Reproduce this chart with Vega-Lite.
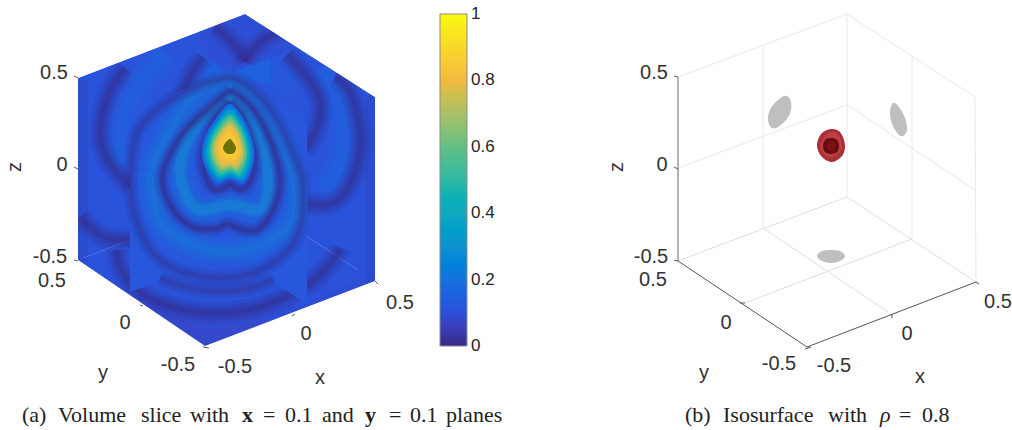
{"$schema":"https://vega.github.io/schema/vega-lite/v6.json","width":1012,"height":430,"padding":0,"autosize":{"type":"none"},"background":"white","config":{"view":{"stroke":null}},
"datasets":{
"back":[
{"p":"wl","x":78,"y":78,"v":0.11},{"p":"wl","x":245,"y":14,"v":0.11},{"p":"wl","x":245,"y":196,"v":0.11},{"p":"wl","x":78,"y":260,"v":0.11},
{"p":"wr","x":245,"y":14,"v":0.11},{"p":"wr","x":375,"y":97,"v":0.11},{"p":"wr","x":375,"y":281,"v":0.11},{"p":"wr","x":245,"y":196,"v":0.11},
{"p":"fl","x":78,"y":260,"v":0.11},{"p":"fl","x":245,"y":196,"v":0.11},{"p":"fl","x":375,"y":281,"v":0.11},{"p":"fl","x":205,"y":346,"v":0.11},
{"p":"fc1","x":78,"y":255,"v":0.103},{"p":"fc1","x":125,"y":283,"v":0.103},{"p":"fc1","x":205,"y":312,"v":0.103},{"p":"fc1","x":300,"y":295,"v":0.103},{"p":"fc1","x":375,"y":262,"v":0.103},{"p":"fc1","x":375,"y":281,"v":0.103},{"p":"fc1","x":205,"y":346,"v":0.103},{"p":"fc1","x":78,"y":260,"v":0.103},
{"p":"fc2","x":100,"y":275,"v":0.094},{"p":"fc2","x":140,"y":298,"v":0.094},{"p":"fc2","x":205,"y":320,"v":0.094},{"p":"fc2","x":300,"y":305,"v":0.094},{"p":"fc2","x":375,"y":274,"v":0.094},{"p":"fc2","x":375,"y":281,"v":0.094},{"p":"fc2","x":205,"y":346,"v":0.094},
{"p":"fc3","x":140,"y":303,"v":0.082},{"p":"fc3","x":205,"y":330,"v":0.082},{"p":"fc3","x":300,"y":315,"v":0.082},{"p":"fc3","x":205,"y":346,"v":0.082},
{"p":"tq","x":245,"y":14,"v":0.097},{"p":"tq","x":293,"y":45,"v":0.097},{"p":"tq","x":293,"y":50,"v":0.097},{"p":"tq","x":230,"y":73,"v":0.097},{"p":"tq","x":205,"y":57,"v":0.097},{"p":"tq","x":198,"y":32,"v":0.097},
{"p":"tl0","x":190,"y":47,"v":0.118},{"p":"tl0","x":230,"y":73,"v":0.118},{"p":"tl0","x":190,"y":88,"v":0.118},
{"p":"tl1","x":205,"y":57,"v":0.145},{"p":"tl1","x":230,"y":73,"v":0.145},{"p":"tl1","x":205,"y":82,"v":0.145},
{"p":"tr0","x":293,"y":50,"v":0.118},{"p":"tr0","x":293,"y":99,"v":0.118},{"p":"tr0","x":230,"y":73,"v":0.118},
{"p":"tr1","x":270,"y":58,"v":0.15},{"p":"tr1","x":270,"y":85,"v":0.15},{"p":"tr1","x":230,"y":73,"v":0.15}
],
"panel":[
{"p":"fp","x":130,"y":110,"v":0.122},{"p":"fp","x":230,"y":73,"v":0.122},{"p":"fp","x":307,"y":122,"v":0.122},{"p":"fp","x":307,"y":304,"v":0.122},{"p":"fp","x":230,"y":255,"v":0.122},{"p":"fp","x":130,"y":292,"v":0.122}
],
"wallGlow":[
{"p":"g3","x":165,"y":52},{"p":"g3","x":140,"y":85},{"p":"g3","x":122,"y":125},{"p":"g3","x":122,"y":165},
{"p":"g4","x":322,"y":68},{"p":"g4","x":341,"y":110},{"p":"g4","x":341,"y":160},{"p":"g4","x":322,"y":190}
],
"wallShade":[
{"p":"sl","x":81,"y":80},{"p":"sl","x":81,"y":262},
{"p":"sr","x":372,"y":95},{"p":"sr","x":372,"y":282}
],
"ringsBack":[
{"p":"r1","x":125,"y":68},{"p":"r1","x":108,"y":95},{"p":"r1","x":100,"y":133},{"p":"r1","x":108,"y":160},{"p":"r1","x":130,"y":187},
{"p":"r2","x":203,"y":57},{"p":"r2","x":192,"y":73},{"p":"r2","x":183,"y":93},{"p":"r2","x":172,"y":112},
{"p":"r3","x":215,"y":27},{"p":"r3","x":228,"y":38},{"p":"r3","x":240,"y":52},{"p":"r3","x":245,"y":62},
{"p":"r4","x":280,"y":30},{"p":"r4","x":262,"y":41},{"p":"r4","x":250,"y":53},{"p":"r4","x":245,"y":62},
{"p":"r5","x":287,"y":55},{"p":"r5","x":308,"y":78},{"p":"r5","x":320,"y":100},{"p":"r5","x":318,"y":125},{"p":"r5","x":305,"y":150},
{"p":"r6","x":335,"y":77},{"p":"r6","x":350,"y":92},{"p":"r6","x":360,"y":133},{"p":"r6","x":357,"y":165},{"p":"r6","x":345,"y":192},{"p":"r6","x":327,"y":205},{"p":"r6","x":305,"y":203},
{"p":"r7","x":80,"y":217},{"p":"r7","x":103,"y":237},{"p":"r7","x":127,"y":240},{"p":"r7","x":135,"y":240},
{"p":"r8","x":117,"y":250},{"p":"r8","x":120,"y":267},{"p":"r8","x":134,"y":287},{"p":"r8","x":160,"y":303},{"p":"r8","x":207,"y":313},{"p":"r8","x":260,"y":307},{"p":"r8","x":310,"y":283},{"p":"r8","x":333,"y":260},{"p":"r8","x":340,"y":248}
],
"glow":[
{"p":"g1","x":230,"y":96},{"p":"g1","x":195,"y":128},{"p":"g1","x":180,"y":170},{"p":"g1","x":195,"y":208},{"p":"g1","x":230,"y":205},{"p":"g1","x":262,"y":208},{"p":"g1","x":268,"y":170},{"p":"g1","x":255,"y":130},{"p":"g1","x":230,"y":96},
{"p":"g2","x":150,"y":170},{"p":"g2","x":165,"y":228},{"p":"g2","x":230,"y":252},{"p":"g2","x":290,"y":225},{"p":"g2","x":292,"y":170},{"p":"g2","x":265,"y":118},{"p":"g2","x":230,"y":84},{"p":"g2","x":190,"y":100},{"p":"g2","x":150,"y":170}
],
"ringsFront":[
{"p":"B","x":230,"y":90},{"p":"B","x":210,"y":107},{"p":"B","x":183,"y":133},{"p":"B","x":165,"y":165},{"p":"B","x":163,"y":187},{"p":"B","x":175,"y":212},{"p":"B","x":193,"y":227},{"p":"B","x":215,"y":229},{"p":"B","x":227,"y":224},{"p":"B","x":240,"y":229},{"p":"B","x":257,"y":230},{"p":"B","x":272,"y":212},{"p":"B","x":280,"y":185},{"p":"B","x":277,"y":160},{"p":"B","x":265,"y":128},{"p":"B","x":250,"y":105},{"p":"B","x":230,"y":90},
{"p":"A","x":230,"y":102},{"p":"A","x":217,"y":115},{"p":"A","x":207,"y":135},{"p":"A","x":202,"y":155},{"p":"A","x":205,"y":175},{"p":"A","x":213,"y":189},{"p":"A","x":222,"y":189},{"p":"A","x":230,"y":184},{"p":"A","x":237,"y":189},{"p":"A","x":245,"y":188},{"p":"A","x":253,"y":175},{"p":"A","x":255,"y":155},{"p":"A","x":250,"y":135},{"p":"A","x":242,"y":115},{"p":"A","x":230,"y":102}
],
"ringsFaint":[
{"p":"C","x":230,"y":77},{"p":"C","x":200,"y":85},{"p":"C","x":160,"y":107},{"p":"C","x":137,"y":133},{"p":"C","x":131,"y":170},{"p":"C","x":132,"y":203},{"p":"C","x":142,"y":235},{"p":"C","x":160,"y":260},{"p":"C","x":190,"y":274},{"p":"C","x":223,"y":278},{"p":"C","x":250,"y":274},{"p":"C","x":273,"y":263},{"p":"C","x":290,"y":248},{"p":"C","x":300,"y":227},{"p":"C","x":303,"y":190},{"p":"C","x":298,"y":165},{"p":"C","x":273,"y":113},{"p":"C","x":250,"y":88},{"p":"C","x":230,"y":77},
{"p":"C2","x":160,"y":278},{"p":"C2","x":190,"y":288},{"p":"C2","x":220,"y":291},{"p":"C2","x":250,"y":288},{"p":"C2","x":273,"y":279}
],
"peak":[
{"p":"l00","v":0.18,"x":230,"y":104},{"p":"l00","v":0.18,"x":243,"y":118},{"p":"l00","v":0.18,"x":252,"y":139},{"p":"l00","v":0.18,"x":254,"y":161},{"p":"l00","v":0.18,"x":244,"y":183},{"p":"l00","v":0.18,"x":230,"y":179},{"p":"l00","v":0.18,"x":216,"y":183},{"p":"l00","v":0.18,"x":203,"y":161},{"p":"l00","v":0.18,"x":204,"y":139},{"p":"l00","v":0.18,"x":216,"y":118},
{"p":"l01","v":0.27,"x":230,"y":107},{"p":"l01","v":0.27,"x":242,"y":121},{"p":"l01","v":0.27,"x":250,"y":140},{"p":"l01","v":0.27,"x":252,"y":160},{"p":"l01","v":0.27,"x":243,"y":180},{"p":"l01","v":0.27,"x":230,"y":177},{"p":"l01","v":0.27,"x":217,"y":180},{"p":"l01","v":0.27,"x":205,"y":160},{"p":"l01","v":0.27,"x":206,"y":140},{"p":"l01","v":0.27,"x":217,"y":121},
{"p":"l02","v":0.35,"x":230,"y":110},{"p":"l02","v":0.35,"x":241,"y":122},{"p":"l02","v":0.35,"x":249,"y":140},{"p":"l02","v":0.35,"x":250,"y":159},{"p":"l02","v":0.35,"x":242,"y":178},{"p":"l02","v":0.35,"x":230,"y":175},{"p":"l02","v":0.35,"x":218,"y":178},{"p":"l02","v":0.35,"x":207,"y":159},{"p":"l02","v":0.35,"x":208,"y":140},{"p":"l02","v":0.35,"x":218,"y":122},
{"p":"l03","v":0.44,"x":230,"y":113},{"p":"l03","v":0.44,"x":240,"y":124},{"p":"l03","v":0.44,"x":247,"y":141},{"p":"l03","v":0.44,"x":249,"y":158},{"p":"l03","v":0.44,"x":241,"y":176},{"p":"l03","v":0.44,"x":230,"y":173},{"p":"l03","v":0.44,"x":218,"y":176},{"p":"l03","v":0.44,"x":208,"y":158},{"p":"l03","v":0.44,"x":209,"y":141},{"p":"l03","v":0.44,"x":218,"y":124},
{"p":"l04","v":0.52,"x":230,"y":115},{"p":"l04","v":0.52,"x":240,"y":126},{"p":"l04","v":0.52,"x":246,"y":141},{"p":"l04","v":0.52,"x":247,"y":157},{"p":"l04","v":0.52,"x":240,"y":174},{"p":"l04","v":0.52,"x":230,"y":171},{"p":"l04","v":0.52,"x":219,"y":174},{"p":"l04","v":0.52,"x":210,"y":157},{"p":"l04","v":0.52,"x":211,"y":141},{"p":"l04","v":0.52,"x":219,"y":126},
{"p":"l05","v":0.6,"x":230,"y":118},{"p":"l05","v":0.6,"x":239,"y":128},{"p":"l05","v":0.6,"x":244,"y":142},{"p":"l05","v":0.6,"x":246,"y":157},{"p":"l05","v":0.6,"x":239,"y":171},{"p":"l05","v":0.6,"x":230,"y":169},{"p":"l05","v":0.6,"x":220,"y":171},{"p":"l05","v":0.6,"x":212,"y":157},{"p":"l05","v":0.6,"x":212,"y":142},{"p":"l05","v":0.6,"x":220,"y":128},
{"p":"l06","v":0.68,"x":230,"y":121},{"p":"l06","v":0.68,"x":238,"y":130},{"p":"l06","v":0.68,"x":243,"y":142},{"p":"l06","v":0.68,"x":244,"y":156},{"p":"l06","v":0.68,"x":238,"y":169},{"p":"l06","v":0.68,"x":230,"y":167},{"p":"l06","v":0.68,"x":221,"y":169},{"p":"l06","v":0.68,"x":213,"y":156},{"p":"l06","v":0.68,"x":214,"y":142},{"p":"l06","v":0.68,"x":221,"y":130},
{"p":"l07","v":0.75,"x":230,"y":124},{"p":"l07","v":0.75,"x":237,"y":131},{"p":"l07","v":0.75,"x":241,"y":143},{"p":"l07","v":0.75,"x":243,"y":155},{"p":"l07","v":0.75,"x":237,"y":167},{"p":"l07","v":0.75,"x":230,"y":165},{"p":"l07","v":0.75,"x":222,"y":167},{"p":"l07","v":0.75,"x":215,"y":155},{"p":"l07","v":0.75,"x":215,"y":143},{"p":"l07","v":0.75,"x":222,"y":131},
{"p":"l08","v":0.8,"x":230,"y":126},{"p":"l08","v":0.8,"x":236,"y":133},{"p":"l08","v":0.8,"x":240,"y":143},{"p":"l08","v":0.8,"x":241,"y":154},{"p":"l08","v":0.8,"x":236,"y":164},{"p":"l08","v":0.8,"x":230,"y":163},{"p":"l08","v":0.8,"x":223,"y":164},{"p":"l08","v":0.8,"x":217,"y":154},{"p":"l08","v":0.8,"x":217,"y":143},{"p":"l08","v":0.8,"x":223,"y":133},
{"p":"l09","v":0.83,"x":229,"y":130},{"p":"l09","v":0.83,"x":235,"y":136},{"p":"l09","v":0.83,"x":238,"y":144},{"p":"l09","v":0.83,"x":239,"y":153},{"p":"l09","v":0.83,"x":235,"y":161},{"p":"l09","v":0.83,"x":229,"y":160},{"p":"l09","v":0.83,"x":224,"y":161},{"p":"l09","v":0.83,"x":219,"y":153},{"p":"l09","v":0.83,"x":219,"y":144},{"p":"l09","v":0.83,"x":224,"y":136},
{"p":"l10","v":0.85,"x":229,"y":134},{"p":"l10","v":0.85,"x":234,"y":138},{"p":"l10","v":0.85,"x":236,"y":145},{"p":"l10","v":0.85,"x":237,"y":151},{"p":"l10","v":0.85,"x":234,"y":158},{"p":"l10","v":0.85,"x":229,"y":157},{"p":"l10","v":0.85,"x":225,"y":158},{"p":"l10","v":0.85,"x":221,"y":151},{"p":"l10","v":0.85,"x":221,"y":145},{"p":"l10","v":0.85,"x":225,"y":138}
],
"egg":[{"x":230,"y":139},{"x":233,"y":142},{"x":236,"y":148},{"x":234,"y":153},{"x":230,"y":154},{"x":226,"y":153},{"x":223,"y":148},{"x":226,"y":142}],
"mask":[
{"p":"m1","x":60,"y":78},{"p":"m1","x":78,"y":78},{"p":"m1","x":245,"y":14},{"p":"m1","x":375,"y":97},{"p":"m1","x":395,"y":97},{"p":"m1","x":395,"y":0},{"p":"m1","x":60,"y":0},
{"p":"m2","x":60,"y":78},{"p":"m2","x":78,"y":78},{"p":"m2","x":78,"y":260},{"p":"m2","x":60,"y":260},
{"p":"m3","x":375,"y":97},{"p":"m3","x":395,"y":97},{"p":"m3","x":395,"y":281},{"p":"m3","x":375,"y":281},
{"p":"m4","x":60,"y":260},{"p":"m4","x":78,"y":260},{"p":"m4","x":205,"y":346},{"p":"m4","x":375,"y":281},{"p":"m4","x":395,"y":281},{"p":"m4","x":395,"y":360},{"p":"m4","x":60,"y":360}
],
"barTicks":[{"x":463,"x2":467,"y":279.6},{"x":463,"x2":467,"y":213.2},{"x":463,"x2":467,"y":146.8},{"x":463,"x2":467,"y":80.4}],
"grid":[
{"x":678,"y":77,"x2":847,"y2":14},{"x":847,"y":14,"x2":975,"y2":97},{"x":847,"y":14,"x2":847,"y2":197},{"x":975,"y":97,"x2":976,"y2":282},
{"x":763,"y":46,"x2":763,"y2":228},{"x":912,"y":56,"x2":912,"y2":239},{"x":678,"y":168,"x2":847,"y2":105},{"x":847,"y":105,"x2":975,"y2":190}
],
"floorGrid":[
{"x":678,"y":261,"x2":847,"y2":197},{"x":847,"y":197,"x2":976,"y2":282},{"x":763,"y":228,"x2":888,"y2":312},{"x":912,"y":239,"x2":745,"y2":303}
],
"axes":[
{"x":678,"y":261,"x2":807,"y2":347},{"x":807,"y":347,"x2":976,"y2":282},
{"x":674,"y":260,"x2":678,"y2":261},{"x":674,"y":76,"x2":678,"y2":77},{"x":674,"y":167,"x2":678,"y2":169},{"x":740,"y":303,"x2":745,"y2":303},{"x":892,"y":318,"x2":892,"y2":314},{"x":805,"y":349,"x2":811,"y2":347},{"x":976,"y":282,"x2":979,"y2":284},
{"x":74,"y":76,"x2":78,"y2":78},{"x":74,"y":167,"x2":78,"y2":169},{"x":74,"y":260,"x2":78,"y2":261},{"x":203,"y":347,"x2":209,"y2":348},{"x":375,"y":281,"x2":378,"y2":284},{"x":140,"y":305,"x2":143,"y2":306},{"x":292,"y":316,"x2":295,"y2":314}
],
"zAxis":[{"x":678,"y":77,"x2":678,"y2":261}],
"blobs":[
{"p":"e1","x":784,"y":96},{"p":"e1","x":790,"y":99},{"p":"e1","x":791,"y":110},{"p":"e1","x":786,"y":120},{"p":"e1","x":776,"y":128},{"p":"e1","x":770,"y":126},{"p":"e1","x":768,"y":116},{"p":"e1","x":773,"y":105},
{"p":"e2","x":893,"y":103},{"p":"e2","x":899,"y":107},{"p":"e2","x":905,"y":118},{"p":"e2","x":907,"y":130},{"p":"e2","x":903,"y":136},{"p":"e2","x":898,"y":134},{"p":"e2","x":892,"y":124},{"p":"e2","x":890,"y":112},
{"p":"e3","x":831,"y":250},{"p":"e3","x":840,"y":251},{"p":"e3","x":845,"y":256},{"p":"e3","x":840,"y":261},{"p":"e3","x":831,"y":263},{"p":"e3","x":822,"y":261},{"p":"e3","x":817,"y":256},{"p":"e3","x":822,"y":251}
],
"red1":[{"x":831,"y":129},{"x":840,"y":132},{"x":845,"y":145},{"x":842,"y":156},{"x":832,"y":162},{"x":822,"y":157},{"x":817,"y":146},{"x":821,"y":134}],
"red2":[{"x":832,"y":132},{"x":839,"y":136},{"x":842,"y":146},{"x":839,"y":153},{"x":831,"y":157},{"x":824,"y":154},{"x":820,"y":146},{"x":824,"y":137}],
"red3":[{"x":831,"y":138},{"x":837,"y":140},{"x":839,"y":146},{"x":837,"y":152},{"x":831,"y":154},{"x":825,"y":152},{"x":823,"y":146},{"x":825,"y":140}],
"red4":[{"x":831,"y":141},{"x":835,"y":143},{"x":836,"y":146},{"x":834,"y":150},{"x":831,"y":151},{"x":828,"y":149},{"x":827,"y":146},{"x":828,"y":143}],
"labels":[
{"t":"0.5","x":54,"y":73},{"t":"0","x":62,"y":165},{"t":"-0.5","x":50,"y":257},{"t":"0.5","x":52,"y":281},{"t":"0","x":125,"y":323},{"t":"-0.5","x":178,"y":365},{"t":"y","x":103,"y":373},{"t":"-0.5","x":235,"y":367},{"t":"0","x":306,"y":334},{"t":"0.5","x":400,"y":303},{"t":"x","x":320,"y":378},
{"t":"0.5","x":654,"y":73},{"t":"0","x":662,"y":165},{"t":"-0.5","x":651,"y":257},{"t":"0.5","x":653,"y":280},{"t":"0","x":726,"y":323},{"t":"-0.5","x":779,"y":364},{"t":"y","x":704,"y":373},{"t":"-0.5","x":834,"y":366},{"t":"0","x":907,"y":334},{"t":"0.5","x":998,"y":302},{"t":"x","x":920,"y":377}
],
"zLabels":[{"t":"z","x":15,"y":167},{"t":"z","x":617,"y":167}],
"caption":[
{"t":"(a)","x":22,"y":422},{"t":"Volume","x":58,"y":422},{"t":"slice","x":141,"y":422},{"t":"with","x":190,"y":422},{"t":"=","x":263,"y":422},{"t":"0.1","x":285,"y":422},{"t":"and","x":322,"y":422},{"t":"=","x":389,"y":422},{"t":"0.1","x":410,"y":422},{"t":"planes","x":446,"y":422},
{"t":"(b)","x":685,"y":422},{"t":"Isosurface","x":723,"y":422},{"t":"with","x":828,"y":422},{"t":"=","x":899,"y":422},{"t":"0.8","x":922,"y":422}
],
"captionBold":[{"t":"x","x":242,"y":422},{"t":"y","x":365,"y":422}],
"captionItalic":[{"t":"ρ","x":880,"y":422}]
},
"encoding":{
"x":{"field":"x","type":"quantitative","scale":{"domain":[0,1012],"nice":false,"zero":false},"axis":null},
"y":{"field":"y","type":"quantitative","scale":{"domain":[430,0],"nice":false,"zero":false},"axis":null}
},
"layer":[
{"data":{"name":"back"},"mark":{"type":"line","filled":true,"order":false,"interpolate":"linear-closed","strokeWidth":0},
 "encoding":{"detail":{"field":"p"},"color":{"field":"v","type":"quantitative","title":null,
  "scale":{"domain":[0,0.05,0.1,0.15,0.2,0.3,0.4,0.5,0.6,0.7,0.8,0.9,1],"range":["#352a87","#3a3bb5","#2c50d8","#1e60e0","#1572dd","#0f92d0","#10a8c0","#30b8a4","#62bf85","#aac069","#f2ba3e","#f8d82a","#f9fb0e"]},
  "legend":{"orient":"none","legendX":440,"legendY":14,"gradientLength":332,"gradientThickness":27,"values":[0,0.2,0.4,0.6,0.8,1],"format":"~g","labelFontSize":17,"labelFont":"Liberation Sans","labelColor":"#262626","labelOffset":4,"gradientStrokeColor":"#8c8c8c","gradientStrokeWidth":1,"direction":"vertical","labelOverlap":false,"encode":{"labels":{"update":{"baseline":{"value":"middle"}}}}}}}},
{"data":{"name":"wallShade"},"mark":{"type":"line","order":false,"color":"#352a87","opacity":0.14,"strokeWidth":14},"encoding":{"detail":{"field":"p"}}},
{"data":{"name":"wallGlow"},"mark":{"type":"line","order":false,"interpolate":"cardinal","color":"#1a6ce2","opacity":0.2,"strokeWidth":28},"encoding":{"detail":{"field":"p"}}},
{"data":{"name":"wallGlow"},"mark":{"type":"line","order":false,"interpolate":"cardinal","color":"#1a6ce2","opacity":0.25,"strokeWidth":14},"encoding":{"detail":{"field":"p"}}},
{"data":{"name":"ringsBack"},"mark":{"type":"line","order":false,"interpolate":"cardinal","color":"#352a87","opacity":0.15,"strokeWidth":22},"encoding":{"detail":{"field":"p"}}},
{"data":{"name":"ringsBack"},"mark":{"type":"line","order":false,"interpolate":"cardinal","color":"#352a87","opacity":0.2,"strokeWidth":15},"encoding":{"detail":{"field":"p"}}},
{"data":{"name":"ringsBack"},"mark":{"type":"line","order":false,"interpolate":"cardinal","color":"#352a87","opacity":0.25,"strokeWidth":9},"encoding":{"detail":{"field":"p"}}},
{"data":{"name":"ringsBack"},"mark":{"type":"line","order":false,"interpolate":"cardinal","color":"#352a87","opacity":0.3,"strokeWidth":4},"encoding":{"detail":{"field":"p"}}},
{"data":{"name":"panel"},"mark":{"type":"line","filled":true,"order":false,"interpolate":"linear-closed","strokeWidth":0},"encoding":{"detail":{"field":"p"},"color":{"field":"v","type":"quantitative"}}},
{"data":{"name":"glow"},"mark":{"type":"line","order":false,"interpolate":"cardinal","color":"#1283d8","opacity":0.16,"strokeWidth":26},"encoding":{"detail":{"field":"p"}}},
{"data":{"name":"glow"},"mark":{"type":"line","order":false,"interpolate":"cardinal","color":"#1283d8","opacity":0.2,"strokeWidth":16},"encoding":{"detail":{"field":"p"}}},
{"data":{"name":"glow"},"mark":{"type":"line","order":false,"interpolate":"cardinal","color":"#1283d8","opacity":0.25,"strokeWidth":7},"encoding":{"detail":{"field":"p"}}},
{"data":{"name":"glow"},"transform":[{"filter":"datum.p === 'g1'"}],"mark":{"type":"line","order":false,"interpolate":"cardinal","color":"#119ad0","opacity":0.3,"strokeWidth":11},"encoding":{"detail":{"field":"p"}}},
{"data":{"name":"ringsFaint"},"mark":{"type":"line","order":false,"interpolate":"cardinal","color":"#352a87","opacity":0.14,"strokeWidth":15},"encoding":{"detail":{"field":"p"}}},
{"data":{"name":"ringsFaint"},"mark":{"type":"line","order":false,"interpolate":"cardinal","color":"#352a87","opacity":0.18,"strokeWidth":9},"encoding":{"detail":{"field":"p"}}},
{"data":{"name":"ringsFaint"},"mark":{"type":"line","order":false,"interpolate":"cardinal","color":"#352a87","opacity":0.24,"strokeWidth":4},"encoding":{"detail":{"field":"p"}}},
{"data":{"name":"ringsFront"},"mark":{"type":"line","order":false,"interpolate":"cardinal","color":"#352a87","opacity":0.14,"strokeWidth":15},"encoding":{"detail":{"field":"p"}}},
{"data":{"name":"ringsFront"},"mark":{"type":"line","order":false,"interpolate":"cardinal","color":"#352a87","opacity":0.2,"strokeWidth":10},"encoding":{"detail":{"field":"p"}}},
{"data":{"name":"ringsFront"},"mark":{"type":"line","order":false,"interpolate":"cardinal","color":"#352a87","opacity":0.28,"strokeWidth":6},"encoding":{"detail":{"field":"p"}}},
{"data":{"name":"ringsFront"},"mark":{"type":"line","order":false,"interpolate":"cardinal","color":"#352a87","opacity":0.4,"strokeWidth":3},"encoding":{"detail":{"field":"p"}}},
{"data":{"name":"peak"},"mark":{"type":"line","filled":true,"order":false,"interpolate":"cardinal-closed","strokeWidth":0},"encoding":{"detail":{"field":"p"},"color":{"field":"v","type":"quantitative"}}},
{"data":{"name":"egg"},"mark":{"type":"line","filled":true,"order":false,"interpolate":"cardinal-closed","color":"#6b7208","strokeWidth":0}},
{"data":{"name":"mask"},"mark":{"type":"line","filled":true,"order":false,"interpolate":"linear-closed","color":"#ffffff","strokeWidth":0},"encoding":{"detail":{"field":"p"}}},
{"data":{"name":"barTicks"},"mark":{"type":"rule","color":"#7a7a7a","strokeWidth":1},"encoding":{"x2":{"field":"x2"}}},
{"data":{"name":"grid"},"mark":{"type":"rule","color":"#e8e8e8","strokeWidth":1},"encoding":{"x2":{"field":"x2"},"y2":{"field":"y2"}}},
{"data":{"name":"floorGrid"},"mark":{"type":"rule","color":"#dedede","strokeWidth":1},"encoding":{"x2":{"field":"x2"},"y2":{"field":"y2"}}},
{"data":{"name":"zAxis"},"mark":{"type":"rule","color":"#b4b4b4","strokeWidth":2},"encoding":{"x2":{"field":"x2"},"y2":{"field":"y2"}}},
{"data":{"name":"axes"},"mark":{"type":"rule","color":"#555555","strokeWidth":1},"encoding":{"x2":{"field":"x2"},"y2":{"field":"y2"}}},
{"data":{"name":"blobs"},"mark":{"type":"line","filled":true,"order":false,"interpolate":"cardinal-closed","color":"#bfbfbf","strokeWidth":0},"encoding":{"detail":{"field":"p"}}},
{"data":{"name":"red1"},"mark":{"type":"line","filled":true,"order":false,"interpolate":"cardinal-closed","color":"#a93036","strokeWidth":0}},
{"data":{"name":"red2"},"mark":{"type":"line","filled":true,"order":false,"interpolate":"cardinal-closed","color":"#bb3f45","strokeWidth":0}},
{"data":{"name":"red3"},"mark":{"type":"line","filled":true,"order":false,"interpolate":"cardinal-closed","color":"#6a0b0f","strokeWidth":0}},
{"data":{"name":"red4"},"mark":{"type":"line","filled":true,"order":false,"interpolate":"cardinal-closed","color":"#7f1014","strokeWidth":0}},
{"data":{"name":"labels"},"mark":{"type":"text","font":"Liberation Sans","fontSize":20,"color":"#333333","align":"center","baseline":"middle"},"encoding":{"text":{"field":"t"}}},
{"data":{"name":"zLabels"},"mark":{"type":"text","font":"Liberation Sans","fontSize":20,"color":"#333333","align":"center","baseline":"middle","angle":270},"encoding":{"text":{"field":"t"}}},
{"data":{"name":"caption"},"mark":{"type":"text","font":"Liberation Serif","fontSize":22,"color":"#222222","align":"left","baseline":"alphabetic"},"encoding":{"text":{"field":"t"}}},
{"data":{"name":"captionBold"},"mark":{"type":"text","font":"Liberation Serif","fontWeight":"bold","fontSize":22,"color":"#222222","align":"left","baseline":"alphabetic"},"encoding":{"text":{"field":"t"}}},
{"data":{"name":"captionItalic"},"mark":{"type":"text","font":"Liberation Serif","fontStyle":"italic","fontSize":22,"color":"#222222","align":"left","baseline":"alphabetic"},"encoding":{"text":{"field":"t"}}}
]}
